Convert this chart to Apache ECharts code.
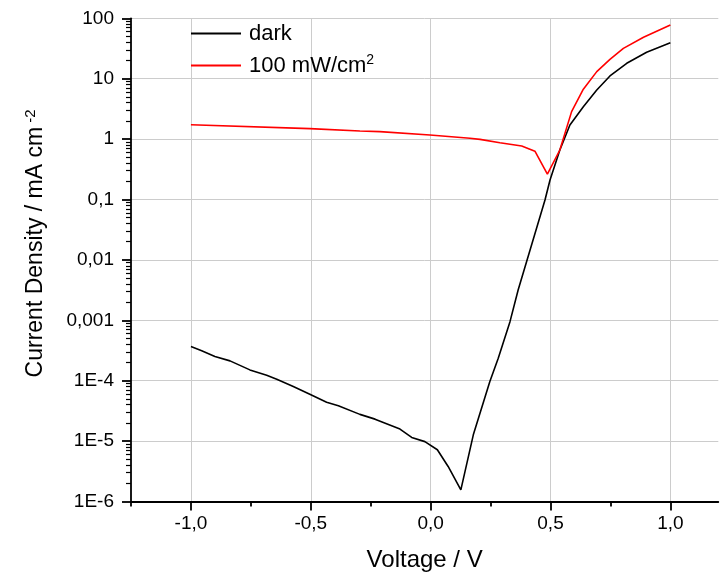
<!DOCTYPE html>
<html><head><meta charset="utf-8">
<script src="https://cdn.jsdelivr.net/npm/echarts@6/dist/echarts.min.js"></script>
<style>html,body{margin:0;padding:0;background:#fff}#c{width:720px;height:578px}</style>
</head><body><div id="c"></div><script>
const darkV = [-1.0, -0.955, -0.900, -0.837, -0.754, -0.684, -0.642, -0.573, -0.504, -0.434, -0.385, -0.295, -0.232, -0.128, -0.079, -0.024, 0.028, 0.073, 0.126, 0.178, 0.247, 0.282, 0.331, 0.365, 0.477, 0.498, 0.539, 0.581, 0.637, 0.693, 0.748, 0.818, 0.901, 1.0];
const darkJ = [3.67e-4, 3.12e-4, 2.51e-4, 2.13e-4, 1.51e-4, 1.23e-4, 1.06e-4, 8.0e-5, 5.98e-5, 4.41e-5, 3.84e-5, 2.77e-5, 2.31e-5, 1.58e-5, 1.15e-5, 9.8e-6, 7.2e-6, 3.8e-6, 1.56e-6, 1.27e-5, 9.7e-5, 2.36e-4, 9.5e-4, 3.18e-3, 0.098, 0.21, 0.66, 1.71, 3.44, 6.5, 11.1, 18.0, 27.4, 39.4];
const lightV = [-1.0, -0.504, -0.295, -0.212, -0.003, 0.164, 0.206, 0.289, 0.380, 0.435, 0.487, 0.539, 0.588, 0.637, 0.693, 0.748, 0.804, 0.888, 1.0];
const lightJ = [1.73, 1.49, 1.36, 1.33, 1.17, 1.03, 0.99, 0.87, 0.77, 0.63, 0.263, 0.66, 2.85, 6.7, 13.1, 20.9, 31.8, 48.5, 77.4];
const seriesNames = ['dark', '100 mW/cm2'];
const xTicks = [-1.0, -0.5, 0.0, 0.5, 1.0];
const xTickLabels = ['-1,0', '-0,5', '0,0', '0,5', '1,0'];
const xMinorTicks = [-1.25, -0.75, -0.25, 0.25, 0.75];
const yTickLabels = ['1E-6', '1E-5', '1E-4', '0,001', '0,01', '0,1', '1', '10', '100'];

const yMinor = [];
for (let e = -6; e < 2; e++) for (let k = 2; k <= 9; k++) yMinor.push(+(k * Math.pow(10, e)).toPrecision(3));

const FONT = "'Liberation Sans', Arial, sans-serif";
const chart = echarts.init(document.getElementById('c'), null, {renderer: 'canvas'});
const xMin = -1.25, xMax = 1.2;
const AX = {color: '#000', width: 1.8};
chart.setOption({
  animation: false,
  backgroundColor: '#fff',
  textStyle: {fontFamily: FONT, color: '#000'},
  grid: {left: 131, right: 1.7, top: 18.3, bottom: 76.5, containLabel: false},
  legend: {
    orient: 'vertical', left: 191, top: 22.5, padding: 0, itemWidth: 50, itemHeight: 2, itemGap: 9,
    icon: 'rect',
    data: seriesNames,
    formatter: n => n === seriesNames[1] ? '{a|100 mW/cm}{s|2}' : '{a|' + n + '}',
    textStyle: {
      fontFamily: FONT, color: '#000',
      rich: {
        a: {fontSize: 22, lineHeight: 24, padding: [0, 0, 0, 3], fontFamily: FONT, color: '#000'},
        s: {fontSize: 14, lineHeight: 14, verticalAlign: 'top', fontFamily: FONT, color: '#000'}
      }
    }
  },
  xAxis: [{
    type: 'value', min: xMin, max: xMax,
    name: 'Voltage / V', nameLocation: 'middle', nameGap: 47,
    nameTextStyle: {fontSize: 24, fontFamily: FONT, color: '#000'},
    axisLine: {show: true, onZero: false, lineStyle: AX},
    axisTick: {show: true, inside: false, length: 9, customValues: xTicks, lineStyle: AX},
    axisLabel: {customValues: xTicks, margin: 13, fontSize: 19, fontFamily: FONT, color: '#000',
      formatter: v => { let i = xTicks.findIndex(t => Math.abs(t - v) < 1e-6); return i >= 0 ? xTickLabels[i] : ''; }},
    splitLine: {show: true, lineStyle: {color: '#cccccc', width: 1}}
  }, {
    type: 'value', min: xMin, max: xMax, position: 'bottom',
    axisLine: {show: false, onZero: false},
    axisTick: {show: true, length: 5, customValues: xMinorTicks, lineStyle: AX},
    axisLabel: {show: false},
    splitLine: {show: false}
  }],
  yAxis: [{
    type: 'log', logBase: 10, min: 1e-6, max: 100, interval: 1,
    name: '{a|Current Density / mA cm}{s| -2}', nameLocation: 'middle', nameGap: 82,
    nameTextStyle: {fontFamily: FONT, color: '#000', padding: [0, 0, 0, 33],
      rich: {
        a: {fontSize: 23, lineHeight: 26, fontFamily: FONT, color: '#000'},
        s: {fontSize: 15, lineHeight: 15, verticalAlign: 'top', fontFamily: FONT, color: '#000'}
      }},
    axisLine: {show: true, onZero: false, lineStyle: AX},
    axisTick: {show: true, length: 9, lineStyle: AX},
    axisLabel: {margin: 17, fontSize: 19, fontFamily: FONT, color: '#000',
      formatter: v => yTickLabels[Math.round(Math.log10(v)) + 6] || ''},
    splitLine: {show: true, lineStyle: {color: '#cccccc', width: 1}},
    minorTick: {show: false}
  }, {
    type: 'log', logBase: 10, min: 1e-6, max: 100, position: 'left',
    axisLine: {show: false, onZero: false},
    axisTick: {show: true, length: 5, customValues: yMinor, lineStyle: {color: '#000', width: 1.2}},
    axisLabel: {show: false},
    splitLine: {show: false}
  }],
  series: [{
    name: seriesNames[0], type: 'line', xAxisIndex: 0, yAxisIndex: 0,
    data: darkV.map((v, i) => [v, darkJ[i]]),
    showSymbol: false, symbol: 'none',
    lineStyle: {color: '#000', width: 1.6}, itemStyle: {color: '#000'}
  }, {
    name: seriesNames[1], type: 'line', xAxisIndex: 0, yAxisIndex: 0,
    data: lightV.map((v, i) => [v, lightJ[i]]),
    showSymbol: false, symbol: 'none',
    lineStyle: {color: '#ff0000', width: 1.6}, itemStyle: {color: '#ff0000'}
  }]
});
</script></body></html>
